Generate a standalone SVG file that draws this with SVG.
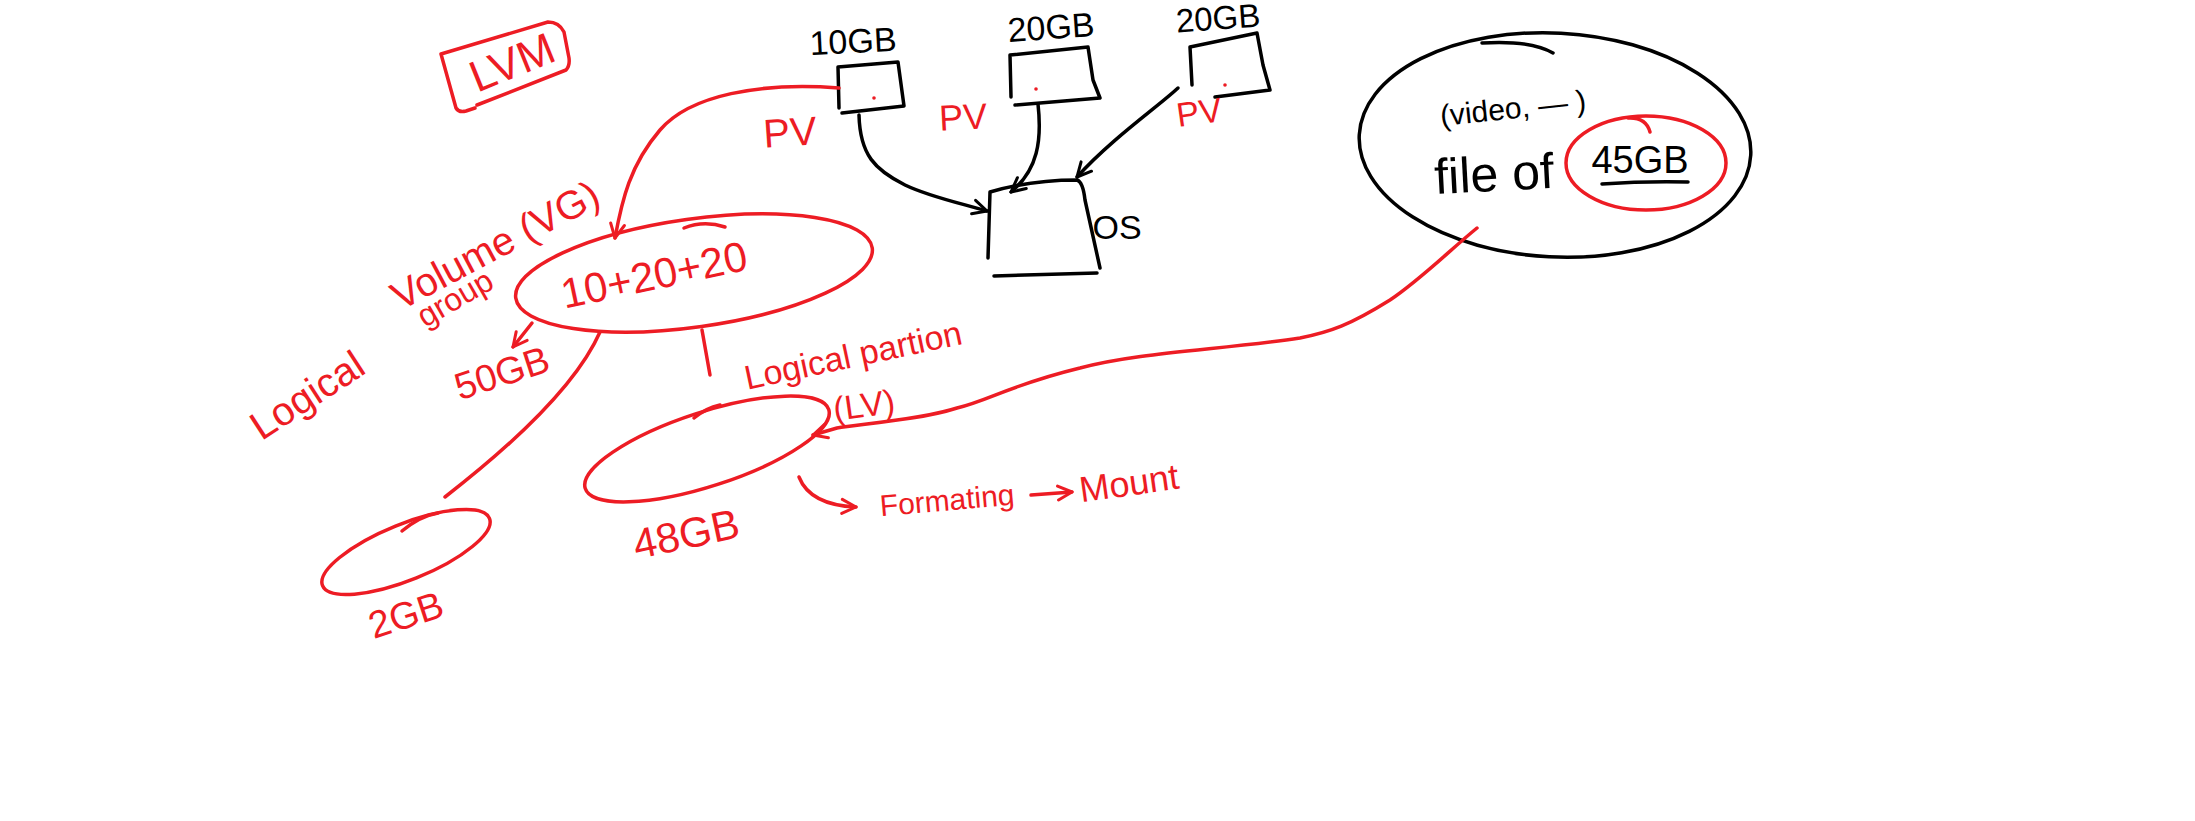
<svg xmlns="http://www.w3.org/2000/svg" width="2195" height="821" viewBox="0 0 2195 821">
<style>
.sk{fill:none;stroke:#000;stroke-width:3.5;stroke-linecap:round;stroke-linejoin:round}
.sr{fill:none;stroke:#ed1c24;stroke-width:3.5;stroke-linecap:round;stroke-linejoin:round}
text{font-family:"Liberation Sans",Arial,sans-serif;text-anchor:middle;dominant-baseline:central}
.tk{fill:#000}
.tr{fill:#ed1c24}
.dot{fill:#ed1c24}
</style>
<defs>
<marker id="ahk" viewBox="0 0 18 18" refX="16" refY="9" markerWidth="18" markerHeight="18" markerUnits="userSpaceOnUse" orient="auto">
<path d="M2,2 L16,9 L2,16" fill="none" stroke="#000" stroke-width="3" stroke-linecap="round" stroke-linejoin="round"/>
</marker>
<marker id="ahr" viewBox="0 0 18 18" refX="16" refY="9" markerWidth="18" markerHeight="18" markerUnits="userSpaceOnUse" orient="auto">
<path d="M2,2 L16,9 L2,16" fill="none" stroke="#ed1c24" stroke-width="3" stroke-linecap="round" stroke-linejoin="round"/>
</marker>
</defs>
<rect width="2195" height="821" fill="#fff"/>

<g id="title-lvm">
<path class="sr" d="M477,105 L566,70 Q570,66 569,58 L564,32 Q559,22 548,22 L441,54 L456,108 Q459,113 466,111 L475,108"/>
<text class="tr" x="512" y="62" font-size="44" transform="rotate(-22 512 62)">LVM</text>
</g>

<g id="disk1">
<path class="sk" d="M839,108 L838,67 L898,62 L904,106 L842,113"/>
<circle class="dot" cx="874" cy="98" r="1.8"/>
<text class="tk" x="853" y="41" font-size="34" transform="rotate(-3 853 41)">10GB</text>
</g>
<g id="disk2">
<path class="sk" d="M1011,97 L1010,55 L1088,47 L1093,80 L1100,98 L1015,105"/>
<circle class="dot" cx="1036" cy="89" r="1.8"/>
<text class="tk" x="1051" y="27" font-size="34" transform="rotate(-4 1051 27)">20GB</text>
</g>
<g id="disk3">
<path class="sk" d="M1192,85 L1190,47 L1257,33 L1263,65 L1270,90 L1215,97"/>
<circle class="dot" cx="1225" cy="85" r="1.8"/>
<text class="tk" x="1218" y="18" font-size="33" transform="rotate(-4 1218 18)">20GB</text>
</g>
<g id="os">
<path class="sk" d="M988,258 L990,192 Q1030,180 1077,180 Q1083,182 1085,200 L1100,268"/>
<path class="sk" d="M994,276 L1097,273"/>
<text class="tk" x="1117" y="227" font-size="34">OS</text>
</g>

<g id="pv-labels">
<text class="tr" x="790" y="132" font-size="40" transform="rotate(-4 790 132)">PV</text>
<text class="tr" x="963" y="117" font-size="36" transform="rotate(-3 963 117)">PV</text>
<text class="tr" x="1199" y="112" font-size="34" transform="rotate(-8 1199 112)">PV</text>
</g>

<g id="file">
<ellipse class="sk" cx="1555" cy="145" rx="196" ry="112" transform="rotate(3 1555 145)"/>
<path class="sk" d="M1482,43 Q1530,40 1553,53"/>
<text class="tk" x="1513" y="108" font-size="30" transform="rotate(-6 1513 108)">(video, — )</text>
<text class="tk" x="1494" y="174" font-size="50" transform="rotate(-3 1494 174)">file of</text>
<text class="tk" x="1640" y="160" font-size="38">45GB</text>
<path class="sk" d="M1602,184 Q1645,181 1688,182"/>
<ellipse class="sr" cx="1646" cy="163" rx="80" ry="47"/>
<path class="sr" d="M1628,118 Q1646,117 1650,132"/>
</g>

<g id="vg">
<ellipse class="sr" cx="694" cy="273" rx="180" ry="54" transform="rotate(-8 694 273)"/>
<path class="sr" d="M684,228 Q704,220 725,227"/>
<text class="tr" x="654" y="275" font-size="42" transform="rotate(-12 654 275)">10+20+20</text>
<text class="tr" x="495" y="245" font-size="40" transform="rotate(-28 495 245)">Volume (VG)</text>
<text class="tr" x="455" y="298" font-size="32" transform="rotate(-30 455 298)">group</text>
<text class="tr" x="502" y="373" font-size="38" transform="rotate(-18 502 373)">50GB</text>
</g>

<g id="logical-label">
<text class="tr" x="307" y="395" font-size="40" transform="rotate(-33 307 395)">Logical</text>
</g>

<g id="lv-small">
<ellipse class="sr" cx="406" cy="552" rx="90" ry="28" transform="rotate(-22 406 552)"/>
<path class="sr" d="M402,531 Q420,516 438,513"/>
<text class="tr" x="406" y="615" font-size="38" transform="rotate(-18 406 615)">2GB</text>
</g>

<g id="lv">
<ellipse class="sr" cx="707" cy="449" rx="128" ry="37" transform="rotate(-18 707 449)"/>
<path class="sr" d="M694,418 Q706,408 720,405"/>
<text class="tr" x="853" y="355" font-size="34" transform="rotate(-12 853 355)">Logical partion</text>
<text class="tr" x="864" y="405" font-size="34" transform="rotate(-8 864 405)">(LV)</text>
<text class="tr" x="686" y="534" font-size="42" transform="rotate(-12 686 534)">48GB</text>
<text class="tr" x="947" y="500" font-size="30" transform="rotate(-5 947 500)">Formating</text>
<text class="tr" x="1129" y="483" font-size="36" transform="rotate(-8 1129 483)">Mount</text>
</g>

<g id="connectors">
<path class="sk" d="M859,115 C860,155 875,170 905,185 C930,197 960,203 987,211" marker-end="url(#ahk)"/>
<path class="sk" d="M1038,104 C1042,140 1038,170 1011,192" marker-end="url(#ahk)"/>
<path class="sk" d="M1178,88 C1160,105 1110,140 1077,177" marker-end="url(#ahk)"/>
<path class="sr" d="M839,88 C760,82 690,95 660,130 C630,165 622,200 615,238" marker-end="url(#ahr)"/>
<path class="sr" d="M532,323 L513,347" marker-end="url(#ahr)"/>
<path class="sr" d="M600,332 Q570,400 445,497"/>
<path class="sr" d="M702,330 L710,375"/>
<path class="sr" d="M1477,228 C1450,250 1420,280 1390,300 C1350,325 1330,332 1300,338 C1220,350 1140,352 1080,368 C1010,385 990,400 957,408 C920,420 860,424 837,428 L813,435" marker-end="url(#ahr)"/>
<path class="sr" d="M799,477 Q810,505 856,507" marker-end="url(#ahr)"/>
<path class="sr" d="M1031,495 L1072,492" marker-end="url(#ahr)"/>
</g>
</svg>
